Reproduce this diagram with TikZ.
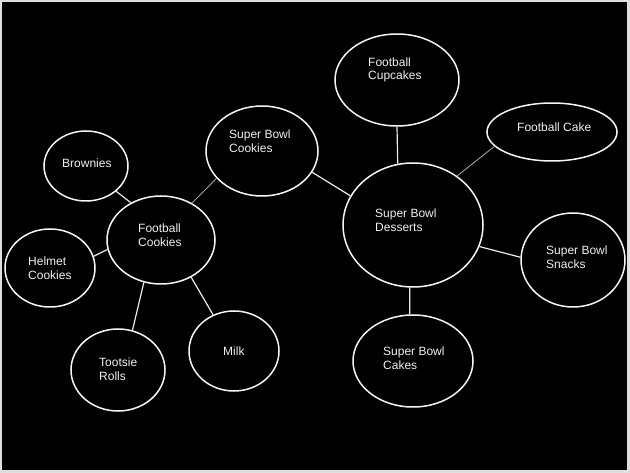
\documentclass[tikz,border=0pt]{standalone}
\usepackage{fontspec}
\setmainfont{Liberation Sans}
\usetikzlibrary{shapes.geometric}
\begin{document}
\begin{tikzpicture}[x=1pt,y=-1pt,
  bub/.style={ellipse,draw=white!92!gray,line width=1.5pt,inner sep=0pt},
  lab/.style={anchor=west,align=left,text=white!88!gray,font=\fontsize{12}{13.5}\selectfont,inner sep=0pt},
  link/.style={draw=white!85!gray,line width=1.2pt},
  faint/.style={draw=gray!75,line width=0.9pt}]
\useasboundingbox (0,0) rectangle (630,473);
\fill[gray!25] (0,0) rectangle (630,473);
\fill[black] (2,2) rectangle (627,470);
% bubbles
\node[bub,minimum width=108pt,minimum height=88pt] (fc) at (161,240) {};
\node[bub,minimum width=84pt,minimum height=70pt] (brownies) at (86,166) {};
\node[bub,minimum width=90pt,minimum height=78pt] (helmet) at (50,268) {};
\node[bub,minimum width=112pt,minimum height=90pt] (sbc) at (262,151) {};
\node[bub,minimum width=94pt,minimum height=82pt] (tootsie) at (118,370) {};
\node[bub,minimum width=90pt,minimum height=80pt] (milk) at (234,351) {};
\node[bub,minimum width=124pt,minimum height=92pt] (cupcakes) at (397,80) {};
\node[bub,minimum width=130pt,minimum height=58pt] (cake) at (552,132) {};
\node[bub,minimum width=140pt,minimum height=124pt] (sbd) at (413,225) {};
\node[bub,minimum width=104pt,minimum height=94pt] (snacks) at (573,260) {};
\node[bub,minimum width=120pt,minimum height=92pt] (cakes) at (413,361) {};
% labels
\node[lab] (fc-t) at (138,235) {Football\\Cookies};
\node[lab] (brownies-t) at (62,163) {Brownies};
\node[lab] (helmet-t) at (28,268) {Helmet\\Cookies};
\node[lab] (sbc-t) at (229,141) {Super Bowl\\Cookies};
\node[lab] (tootsie-t) at (99,369) {Tootsie\\Rolls};
\node[lab] (milk-t) at (223,351) {Milk};
\node[lab] (cupcakes-t) at (368,70) {Football\\Cupcakes};
\node[lab] (cake-t) at (517,127) {Football Cake};
\node[lab] (sbd-t) at (375,220) {Super Bowl\\Desserts};
\node[lab] (snacks-t) at (546,257) {Super Bowl\\Snacks};
\node[lab] (cakes-t) at (383,358) {Super Bowl\\Cakes};
% connectors
\draw[link] (brownies.-40) -- (fc.129);
\draw[link] (helmet.15) -- (fc.190);
\draw[faint] (fc.50) -- (sbc.211);
\draw[link] (fc.-112) -- (tootsie.70);
\draw[link] (fc.-51) -- (milk.120);
\draw[link] (sbc.-23) -- (sbd.155);
\draw[link] (cupcakes.-90) -- (sbd.104);
\draw[faint] (cake.194) -- (sbd.48);
\draw[link] (sbd.-18) -- (snacks.177);
\draw[link] (sbd.-93) -- (cakes.94);
\end{tikzpicture}
\end{document}
